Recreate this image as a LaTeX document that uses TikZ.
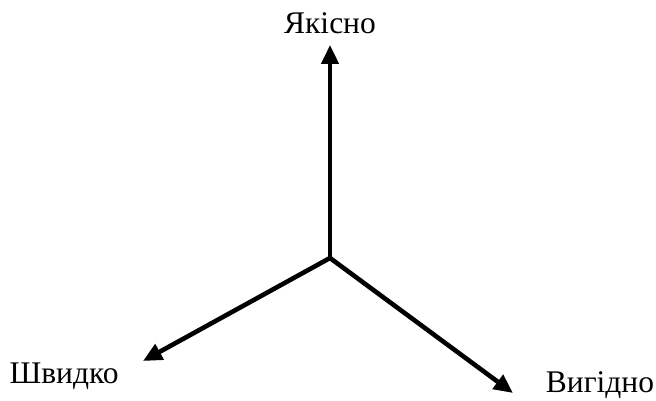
\documentclass[tikz,border=0pt]{standalone}
\usepackage{fontspec}
\setmainfont{Liberation Serif}
\usetikzlibrary{arrows.meta}

\tikzset{
  axis/.style={line width=4.6pt, -{Triangle[length=19pt,width=17pt]}},
  lbl/.style={font=\fontsize{31.5}{34}\selectfont, inner sep=0pt, anchor=base}
}

\begin{document}
\begin{tikzpicture}[x=1pt, y=-1pt]
  \useasboundingbox (0,0) rectangle (656,401);

  % Centre and arrow tips
  \coordinate (o) at (330,258);
  \coordinate (up) at (330,45);
  \coordinate (left) at (143,361);
  \coordinate (right) at (513,393);

  % Axes
  \draw[axis] (o) -- (up);
  \draw[axis] (o) -- (left);
  \draw[axis] (o) -- (right);

  % Labels
  \node[lbl] (quality) at (330,34) {Якісно};
  \node[lbl] (speed) at (64,383) {Швидко};
  \node[lbl] (profit) at (600,392) {Вигідно};
\end{tikzpicture}
\end{document}
